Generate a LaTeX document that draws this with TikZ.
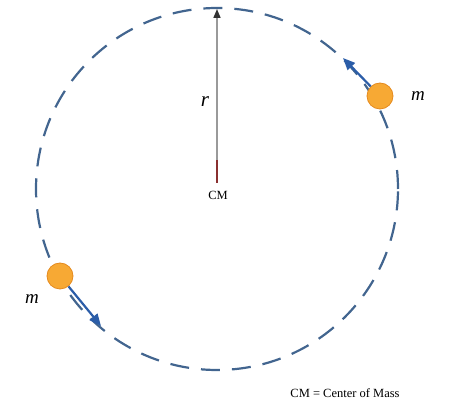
\documentclass[tikz,border=0pt]{standalone}
\usepackage{fontspec}
\setmainfont{Liberation Serif}
\usetikzlibrary{arrows.meta}
\definecolor{orbit}{HTML}{42658F}
\definecolor{velo}{HTML}{2B5DA8}
\definecolor{massfill}{HTML}{F7A934}
\definecolor{massedge}{HTML}{E58A1E}
\definecolor{rodgray}{HTML}{9A9A9A}
\definecolor{rodred}{HTML}{8A3030}
\tikzset{
  orbitline/.style={draw=orbit, line width=2.2pt, dash pattern=on 19pt off 12pt},
  massball/.style={circle, fill=massfill, draw=massedge, line width=0.8pt, minimum size=26pt, inner sep=0pt},
  velarrow/.style={draw=velo, line width=2.2pt, -{Triangle[length=12pt,width=10pt]}},
  masslabel/.style={font=\fontsize{19}{19}\selectfont\itshape, inner sep=1pt},
  smalltext/.style={font=\fontsize{12.5}{13}\selectfont, inner sep=1pt}
}
\begin{document}
\begin{tikzpicture}[x=1pt,y=1pt]
\useasboundingbox (0,0) rectangle (456,-411);
\coordinate (cm) at (217,-189);
\coordinate (top) at (217,-9);
\draw[orbitline] (cm) circle[radius=181];
% radius arrow
\coordinate (redend) at (217,-160);
\draw[rodgray, line width=1.6pt, -{Triangle[length=9pt,width=7pt,fill=black!80,color=black!80]}] (redend) -- (top);
\draw[rodred, line width=1.6pt] (217,-183) -- (redend);
\node[masslabel, font=\fontsize{21}{21}\selectfont\itshape] (rlabel) at (205,-102) {r};
\node[smalltext] (cmlabel) at (218,-195) {CM};
% masses
\node[massball] (m1) at (380,-96) {};
\node[massball] (m2) at (60,-276) {};
\coordinate (v1) at (343,-58);
\coordinate (v2) at (101,-326);
\draw[velarrow] (m1) -- (v1);
\draw[velarrow] (m2) -- (v2);
\node[masslabel] (l1) at (418,-96) {m};
\node[masslabel] (l2) at (32,-299) {m};
\node[smalltext] (caption) at (345,-393) {CM = Center of Mass};
\end{tikzpicture}
\end{document}
